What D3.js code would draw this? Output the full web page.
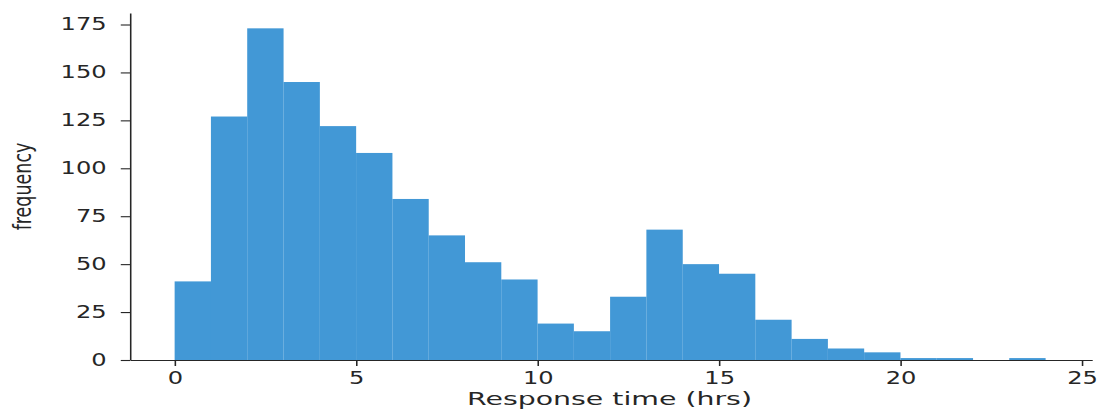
<!DOCTYPE html>
<html>
<head>
<meta charset="utf-8">
<title>Response time histogram</title>
<style>
html, body { margin:0; padding:0; background:#fff; }
svg { display:block; }
.axis text { font-family: 'DejaVu Sans', sans-serif; font-size:17px; fill:#262626; }
.axis path, .axis line { stroke:#262626; stroke-width:1.1px; }
.label { font-family: 'DejaVu Sans', sans-serif; font-size:17.5px; fill:#262626; }
</style>
<script src="https://cdn.jsdelivr.net/npm/d3@7"></script>
</head>
<body>
<svg id="chart"></svg>
<script>

// histogram bins, width 1 hr, starting at 0
var binStart = d3.range(0, 24);
var counts = [41, 127, 173, 145, 122, 108, 84, 65, 51, 42, 19, 15,
              33, 68, 50, 45, 21, 11, 6, 4, 1, 1, 0, 1];
var xTicks = [0, 5, 10, 15, 20, 25];
var yTicks = [0, 25, 50, 75, 100, 125, 150, 175];

// the reference is stretched sideways, so draw in a narrower
// coordinate space and let the viewBox stretch it
var outerW = 1102, outerH = 412, sx = 1.42;
var W = outerW / sx, H = outerH;

var svg = d3.select("#chart")
    .attr("width", outerW)
    .attr("height", outerH)
    .attr("viewBox", "0 0 " + W + " " + H)
    .attr("preserveAspectRatio", "none");

var x = d3.scaleLinear()
    .domain([-1.23, 25.28])
    .range([130 / sx, 1092 / sx]);

var y = d3.scaleLinear()
    .domain([0, 181.0])
    .range([360, 13]);

svg.selectAll(".bar")
  .data(binStart)
  .enter().append("rect")
    .attr("class", "bar")
    .attr("x", function(d) { return x(d); })
    .attr("width", function(d) { return x(d + 1) - x(d) + 0.05; })
    .attr("y", function(d, i) { return y(counts[i]); })
    .attr("height", function(d, i) { return y(0) - y(counts[i]); })
    .attr("fill", "#4298d6");

svg.append("g")
    .attr("class", "axis")
    .attr("transform", "translate(0," + y(0) + ")")
    .call(d3.axisBottom(x).tickValues(xTicks).tickSize(6).tickPadding(6).tickSizeOuter(0));

svg.append("g")
    .attr("class", "axis")
    .attr("transform", "translate(" + x.range()[0] + ",0)")
    .call(d3.axisLeft(y).tickValues(yTicks).tickSize(6.5).tickPadding(10).tickSizeOuter(0));

svg.append("text")
    .attr("class", "label")
    .attr("x", (467 + 752) / 2 / sx)
    .attr("y", 405)
    .attr("text-anchor", "middle")
    .attr("textLength", (752 - 467) / sx)
    .attr("lengthAdjust", "spacingAndGlyphs")
    .text("Response time (hrs)");

svg.append("text")
    .attr("class", "label")
    .attr("transform", "translate(" + (31 / sx) + "," + (y(0) + y(181)) / 2 + ") rotate(-90)")
    .attr("text-anchor", "middle")
    .attr("font-size", "16px")
    .text("frequency");

</script>
</body>
</html>
